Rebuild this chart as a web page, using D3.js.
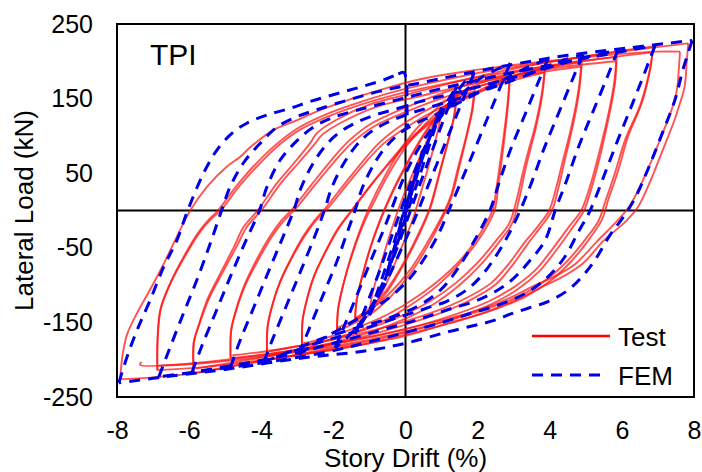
<!DOCTYPE html>
<html>
<head>
<meta charset="utf-8">
<script src="https://cdn.jsdelivr.net/npm/d3@7"></script>
<style>
  html, body { margin: 0; padding: 0; background: #fff; }
  svg { display: block; }
  text { font-family: "Liberation Sans", Arial, Helvetica, sans-serif; fill: #000; }
</style>
</head>
<body>
<svg id="chart" width="702" height="472"></svg>
<script>
// Axis ticks
const xTicks = [-8, -6, -4, -2, 0, 2, 4, 6, 8];
const yTicks = [-250, -150, -50, 50, 150, 250];

// Series names
const seriesNames = ["Test", "FEM"];

// Measured hysteresis (drift %, load kN), one array per half-cycle, peak to peak
const testBranches = [
  [[0,0],[0.2,40],[0.45,80]],
  [[0.45,80],[0.35,55],[0.1,10],[-0.2,-40],[-0.45,-80]],
  [[-0.45,-80],[-0.35,-55],[-0.1,-12],[0.2,35],[0.55,88],[0.8,118],[1.0,135]],
  [[1.0,135],[0.92,112],[0.7,70],[0.45,28],[0.2,-12],[-0.2,-60],[-0.6,-105],[-1.0,-138]],
  [[-1.0,-138],[-0.92,-112],[-0.7,-75],[-0.45,-35],[-0.15,8],[0.25,55],[0.7,100],[1.1,135],[1.42,155]],
  [[1.42,155],[1.36,128],[1.18,92],[0.95,50],[0.7,5],[0.4,-30],[0,-68],[-0.5,-108],[-1.0,-135],[-1.4,-148]],
  [[-1.4,-148],[-1.35,-120],[-1.18,-85],[-0.95,-47],[-0.66,-9],[-0.35,25],[0.05,63],[0.5,100],[0.95,130],[1.4,150]],
  [[1.4,150],[1.34,125],[1.15,88],[0.92,47],[0.66,2],[0.35,-32],[-0.05,-70],[-0.55,-108],[-1.05,-133],[-1.38,-144]],
  [[-1.4,-148],[-1.36,-122],[-1.2,-88],[-0.98,-50],[-0.7,-12],[-0.4,22],[0,60],[0.5,102],[0.95,132],[1.45,153],[1.93,166]],
  [[1.93,166],[1.87,138],[1.7,100],[1.5,60],[1.3,22],[1.12,0],[0.7,-40],[0.2,-80],[-0.4,-115],[-1.0,-140],[-1.5,-153],[-1.9,-162]],
  [[-1.9,-162],[-1.86,-130],[-1.7,-95],[-1.47,-58],[-1.2,-22],[-0.93,6],[-0.48,48],[0.02,86],[0.55,116],[1.1,140],[1.55,153],[1.9,160]],
  [[1.9,160],[1.84,134],[1.67,97],[1.46,58],[1.26,20],[1.07,-2],[0.64,-40],[0.12,-80],[-0.48,-113],[-1.08,-137],[-1.55,-150],[-1.88,-157]],
  [[-1.9,-162],[-1.87,-132],[-1.72,-98],[-1.5,-60],[-1.25,-25],[-1.0,5],[-0.55,48],[-0.05,88],[0.5,120],[1.1,146],[1.8,165],[2.4,176],[2.9,182]],
  [[2.9,182],[2.86,152],[2.78,112],[2.68,72],[2.58,35],[2.47,0],[2.15,-30],[1.6,-66],[0.9,-100],[0.1,-128],[-0.7,-150],[-1.6,-166],[-2.3,-176],[-2.87,-183]],
  [[-2.87,-183],[-2.85,-146],[-2.74,-120],[-2.52,-86],[-2.18,-52],[-1.85,-24],[-1.45,2],[-0.95,34],[-0.45,63],[0.05,90],[0.6,114],[1.2,137],[1.8,153],[2.4,166],[2.88,176]],
  [[2.88,176],[2.84,148],[2.75,110],[2.64,70],[2.53,33],[2.41,0],[2.08,-30],[1.55,-65],[0.82,-98],[0.02,-125],[-0.78,-146],[-1.65,-162],[-2.3,-172],[-2.84,-178]],
  [[-2.87,-183],[-2.86,-150],[-2.76,-125],[-2.55,-90],[-2.22,-55],[-1.9,-26],[-1.5,0],[-1.0,32],[-0.5,62],[0,90],[0.5,112],[1.1,135],[1.8,155],[2.6,173],[3.3,185],[3.87,191]],
  [[3.87,191],[3.82,165],[3.74,140],[3.62,112],[3.48,85],[3.31,52],[3.15,15],[2.95,-18],[2.6,-42],[2.1,-72],[1.5,-100],[0.8,-125],[0,-145],[-0.9,-162],[-1.9,-176],[-2.9,-186],[-3.84,-194]],
  [[-3.84,-194],[-3.82,-155],[-3.7,-128],[-3.46,-94],[-3.1,-59],[-2.74,-30],[-2.42,-10],[-2.1,6],[-1.6,36],[-1.1,65],[-0.6,90],[0.1,114],[0.9,136],[1.8,155],[2.8,172],[3.85,185]],
  [[3.85,185],[3.79,160],[3.7,136],[3.57,108],[3.42,82],[3.25,50],[3.08,14],[2.88,-17],[2.52,-40],[2.0,-70],[1.4,-97],[0.7,-121],[-0.1,-141],[-1.0,-158],[-2.0,-172],[-3.0,-182],[-3.8,-189]],
  [[-3.84,-194],[-3.83,-158],[-3.72,-132],[-3.5,-98],[-3.15,-62],[-2.8,-32],[-2.5,-12],[-2.19,5],[-1.7,35],[-1.2,65],[-0.7,92],[0,118],[0.8,140],[1.7,160],[2.8,178],[3.9,191],[4.89,199]],
  [[4.89,199],[4.84,170],[4.75,140],[4.6,105],[4.42,68],[4.24,30],[4.06,0],[3.75,-22],[3.4,-44],[2.94,-75],[2.48,-100],[1.8,-120],[1.0,-137],[0,-153],[-1.0,-167],[-2,-178],[-2.9,-186],[-3.9,-193],[-4.85,-198]],
  [[-4.85,-198],[-4.83,-160],[-4.7,-135],[-4.45,-101],[-4.08,-66],[-3.72,-36],[-3.36,-13],[-3.02,4],[-2.5,35],[-2.0,64],[-1.5,90],[-0.9,112],[0.1,134],[1.1,152],[2.3,170],[3.6,184],[4.87,193]],
  [[4.87,193],[4.81,166],[4.71,137],[4.55,102],[4.36,66],[4.17,29],[3.98,0],[3.66,-22],[3.3,-43],[2.84,-73],[2.38,-97],[1.7,-117],[0.9,-134],[-0.1,-150],[-1.1,-163],[-2.1,-174],[-3.0,-182],[-3.9,-189],[-4.8,-194]],
  [[-4.85,-198],[-4.84,-162],[-4.73,-138],[-4.5,-104],[-4.15,-68],[-3.8,-38],[-3.45,-14],[-3.12,3],[-2.6,35],[-2.1,65],[-1.6,92],[-1.0,115],[0,138],[1.0,157],[2.2,175],[3.5,190],[4.8,200],[5.86,206]],
  [[5.86,206],[5.82,175],[5.72,145],[5.57,110],[5.38,70],[5.17,32],[4.95,0],[4.6,-25],[4.2,-52],[3.7,-82],[3.1,-106],[2.4,-125],[1.5,-142],[0.5,-157],[-0.7,-172],[-2.0,-184],[-3.3,-196],[-4.6,-207],[-5.87,-218]],
  [[-5.87,-218],[-5.86,-176],[-5.72,-153],[-5.45,-118],[-5.06,-82],[-4.68,-48],[-4.4,-22],[-4.0,0],[-3.45,37],[-2.98,63],[-2.52,89],[-2.3,102],[-1.7,120],[-0.8,139],[0.3,152],[1.5,166],[2.9,180],[4.3,192],[5.84,200]],
  [[5.84,200],[5.79,172],[5.68,142],[5.52,107],[5.32,68],[5.1,30],[4.87,0],[4.5,-24],[4.1,-50],[3.6,-80],[3.0,-103],[2.3,-122],[1.4,-139],[0.4,-154],[-0.8,-168],[-2.1,-180],[-3.4,-192],[-4.7,-203],[-5.82,-212]],
  [[-5.87,-218],[-5.88,-178],[-5.75,-156],[-5.5,-120],[-5.13,-84],[-4.76,-49],[-4.49,-22],[-4.1,0],[-3.56,37],[-3.1,63],[-2.65,90],[-2.45,104],[-1.9,122],[-1.0,142],[0,155],[1.2,170],[2.6,186],[4.0,199],[5.4,210],[6.87,220]],
  [[6.87,220],[6.78,188],[6.55,144],[6.17,99],[5.9,54],[5.62,14],[5.44,-13],[5.1,-38],[4.6,-68],[4.0,-95],[3.3,-116],[2.4,-134],[1.4,-149],[0.2,-164],[-1.2,-180],[-2.7,-192],[-4.2,-202],[-5.6,-210],[-6.88,-214]],
  [[-6.88,-214],[-6.87,-172],[-6.78,-131],[-6.5,-96],[-6.1,-60],[-5.7,-29],[-5.38,-11],[-5.12,0],[-4.62,32],[-4.1,60],[-3.5,88],[-2.9,109],[-2.2,125],[-1.3,141],[-0.3,155],[0.9,168],[2.3,181],[3.9,193],[5.5,204],[6.85,212]],
  [[6.85,212],[6.75,183],[6.5,140],[6.1,96],[5.82,52],[5.54,12],[5.35,-14],[5.0,-38],[4.5,-67],[3.9,-93],[3.2,-114],[2.3,-131],[1.3,-146],[0.1,-161],[-1.3,-176],[-2.8,-188],[-4.3,-198],[-5.7,-205],[-6.85,-208]],
  [[-6.88,-214],[-6.88,-174],[-6.8,-133],[-6.53,-98],[-6.15,-62],[-5.75,-30],[-5.45,-12],[-5.2,0],[-4.7,32],[-4.2,60],[-3.6,88],[-3.0,110],[-2.3,127],[-1.4,143],[-0.4,158],[0.8,172],[2.2,186],[3.8,198],[5.5,210],[6.8,218],[7.84,224]],
  [[7.84,224],[7.8,200],[7.74,166],[7.6,142],[7.45,120],[7.1,77],[6.75,35],[6.45,5],[6.1,-15],[5.5,-40],[4.94,-70],[4.39,-88],[3.84,-101],[3.1,-119],[2.18,-137],[1.26,-150],[0,-168],[-1.5,-182],[-2.92,-193],[-4.3,-204],[-5.7,-217],[-7.08,-224],[-7.91,-226]],
  [[-7.91,-226],[-7.85,-195],[-7.72,-166],[-7.44,-137],[-7.08,-106],[-6.7,-71],[-6.34,-35],[-5.97,0],[-5.5,32],[-4.95,59],[-4.58,72],[-4.3,85],[-3.65,108],[-3.0,121],[-2.55,131],[-1.6,148],[-0.6,163],[0.4,176],[1.6,186],[3.0,195],[4.5,203],[6.0,210],[7.0,213],[7.61,213]],
  [[7.61,213],[7.58,190],[7.52,160],[7.38,135],[7.2,112],[6.85,70],[6.48,30],[6.2,5],[5.85,-15],[5.3,-42],[4.7,-72],[4.15,-88],[3.6,-100],[2.9,-117],[2.0,-134],[1.0,-147],[-0.3,-162],[-1.8,-177],[-3.3,-189],[-4.8,-199],[-6.2,-206],[-7.36,-207],[-7.32,-203]]
];

// Finite element prediction, same layout
const femBranches = [
  [[0,0],[0.25,45],[0.5,82]],
  [[0.5,82],[0.35,58],[0,5],[-0.3,-48],[-0.5,-82]],
  [[-0.5,-82],[-0.35,-58],[0,-4],[0.4,60],[0.75,108],[1.0,138]],
  [[1.0,138],[0.8,108],[0.4,48],[0,-10],[-0.4,-70],[-0.75,-115],[-1.0,-140]],
  [[-1.0,-140],[-0.8,-112],[-0.4,-55],[0,5],[0.4,62],[0.8,112],[1.15,145],[1.42,166]],
  [[1.42,166],[1.2,140],[0.8,88],[0.4,35],[0.05,-12],[-0.35,-65],[-0.75,-110],[-1.1,-142],[-1.4,-165]],
  [[-1.4,-165],[-1.15,-135],[-0.75,-85],[-0.35,-30],[0,18],[0.4,70],[0.85,115],[1.3,150],[1.6,170],[1.9,184]],
  [[1.9,184],[1.65,155],[1.25,108],[0.85,60],[0.5,18],[0.25,-12],[-0.1,-50],[-0.5,-92],[-0.95,-130],[-1.45,-162],[-1.95,-184]],
  [[-1.95,-184],[-1.7,-155],[-1.3,-108],[-0.9,-60],[-0.6,-25],[-0.4,0],[-0.1,38],[0.3,78],[0.8,115],[1.4,148],[2.1,178],[2.9,197]],
  [[2.9,197],[2.65,168],[2.25,121],[1.85,74],[1.5,34],[1.2,0],[0.9,-33],[0.5,-66],[0.1,-92],[-0.4,-115],[-1.0,-135],[-1.6,-153],[-2.3,-172],[-2.96,-193]],
  [[-2.96,-193],[-2.7,-162],[-2.3,-115],[-1.9,-68],[-1.62,-30],[-1.4,0],[-1.2,30],[-0.9,60],[-0.55,85],[-0.15,104],[0.3,117],[0.9,130],[1.7,150],[2.6,172],[3.3,190],[3.95,203]],
  [[3.95,203],[3.7,174],[3.3,127],[2.9,80],[2.6,38],[2.34,0],[1.87,-44],[1.42,-80],[0.96,-107],[0.31,-129],[-0.62,-147],[-1.54,-160],[-2.46,-174],[-3.2,-189],[-3.93,-203]],
  [[-3.93,-203],[-3.68,-172],[-3.28,-125],[-2.88,-78],[-2.52,-35],[-2.25,0],[-2.05,30],[-1.75,60],[-1.4,85],[-1.0,104],[-0.55,117],[0,128],[0.65,138],[1.6,152],[2.6,168],[3.6,186],[4.3,200],[4.92,209]],
  [[4.92,209],[4.65,178],[4.25,131],[3.85,84],[3.5,38],[3.18,0],[2.85,-33],[2.44,-66],[2.08,-89],[1.68,-107],[1.13,-122],[0.58,-131],[0.08,-139],[-0.5,-148],[-1.5,-164],[-2.6,-180],[-3.7,-198],[-4.85,-210]],
  [[-4.85,-210],[-4.6,-176],[-4.2,-129],[-3.8,-82],[-3.42,-38],[-3.1,0],[-2.9,30],[-2.6,60],[-2.25,85],[-1.85,104],[-1.4,117],[-0.85,128],[-0.2,137],[0.4,146],[1.4,158],[2.5,172],[3.6,186],[4.7,202],[5.89,215]],
  [[5.89,215],[5.62,182],[5.22,135],[4.82,88],[4.45,38],[4.15,0],[3.87,-40],[3.4,-70],[2.95,-93],[2.48,-109],[1.9,-122],[1.3,-131],[0.8,-139],[0.3,-147],[-0.8,-162],[-2.0,-178],[-3.2,-193],[-4.6,-206],[-5.92,-217]],
  [[-5.92,-217],[-5.65,-182],[-5.25,-135],[-4.85,-88],[-4.45,-43],[-4.05,0],[-3.84,32],[-3.47,68],[-3.0,94],[-2.55,112],[-2.0,125],[-1.3,135],[-0.5,145],[0.3,155],[1.3,167],[2.5,180],[3.8,193],[5.2,206],[6.92,221]],
  [[6.92,221],[6.65,187],[6.3,144],[5.9,96],[5.5,46],[5.12,0],[4.78,-30],[4.42,-62],[3.95,-89],[3.4,-109],[2.84,-122],[2.3,-131],[1.8,-138],[1.3,-146],[0.2,-161],[-1.0,-176],[-2.2,-190],[-3.8,-203],[-5.3,-213],[-6.84,-223]],
  [[-6.84,-223],[-6.58,-190],[-6.2,-143],[-5.8,-95],[-5.42,-45],[-5.1,0],[-4.86,32],[-4.49,64],[-4.03,90],[-3.56,112],[-3.0,126],[-2.46,135],[-1.6,148],[-0.7,160],[0.3,170],[1.5,182],[3.0,196],[4.5,208],[6.2,218],[7.95,228]],
  [[7.95,228],[7.7,190],[7.47,148],[7.1,101],[6.73,56],[6.36,16],[6.05,-8],[5.67,-33],[5.26,-66],[4.89,-89],[4.5,-107],[3.95,-122],[3.4,-131],[2.9,-139],[2.48,-147],[1.23,-162],[0,-178],[-1.08,-188],[-2.92,-198],[-5.0,-213],[-6.7,-223],[-7.95,-231]],
  [[-7.95,-231],[-7.72,-196],[-7.44,-160],[-7.08,-120],[-6.7,-75],[-6.34,-40],[-6.04,0],[-5.6,50],[-5.23,81],[-4.8,104],[-4.4,117],[-3.84,128],[-3.2,137],[-2.65,146],[-1.73,159],[-1.07,168],[-0.55,176],[-0.2,183]],
  [[-0.2,183],[-0.05,185],[0.02,175],[0.04,140],[0.06,110]]
];

const svg = d3.select("#chart");
const W = 702, H = 472;
const plot = { left: 117, right: 694, top: 24, bottom: 397 };

const x = d3.scaleLinear().domain([-8, 8]).range([plot.left, plot.right]);
const y = d3.scaleLinear().domain([-250, 250]).range([plot.bottom, plot.top]);

svg.append("rect").attr("width", W).attr("height", H).attr("fill", "#fff");

svg.append("defs").append("clipPath").attr("id", "plot-clip")
  .append("rect")
  .attr("x", plot.left).attr("y", plot.top)
  .attr("width", plot.right - plot.left).attr("height", plot.bottom - plot.top);

// Zero cross-hair
svg.append("line")
  .attr("x1", plot.left).attr("x2", plot.right)
  .attr("y1", y(0)).attr("y2", y(0))
  .attr("stroke", "#000").attr("stroke-width", 2);
svg.append("line")
  .attr("x1", x(0)).attr("x2", x(0))
  .attr("y1", plot.top).attr("y2", plot.bottom)
  .attr("stroke", "#000").attr("stroke-width", 2);

const line = d3.line()
  .x(d => x(d[0]))
  .y(d => y(d[1]))
  .curve(d3.curveCatmullRom.alpha(0.5));

const data = svg.append("g").attr("clip-path", "url(#plot-clip)");

data.append("g").attr("class", "test")
  .selectAll("path").data(testBranches).join("path")
  .attr("d", line)
  .attr("fill", "none")
  .attr("stroke", "#ff1010")
  .attr("stroke-opacity", 0.72)
  .attr("stroke-width", 1.9)
  .attr("stroke-linejoin", "round");

data.append("g").attr("class", "fem")
  .selectAll("path").data(femBranches).join("path")
  .attr("d", line)
  .attr("fill", "none")
  .attr("stroke", "#0000e6")
  .attr("stroke-width", 3)
  .attr("stroke-dasharray", "11,8");

// Frame
svg.append("rect")
  .attr("x", plot.left).attr("y", plot.top)
  .attr("width", plot.right - plot.left).attr("height", plot.bottom - plot.top)
  .attr("fill", "none").attr("stroke", "#000").attr("stroke-width", 2);

// Axes (labels only, no tick marks)
const fmt = d => String(d);
const xAxis = svg.append("g")
  .attr("transform", `translate(0,${plot.bottom})`)
  .call(d3.axisBottom(x).tickValues(xTicks).tickFormat(fmt).tickSize(0).tickPadding(24));
const yAxis = svg.append("g")
  .attr("transform", `translate(${plot.left},0)`)
  .call(d3.axisLeft(y).tickValues(yTicks).tickFormat(fmt).tickSize(0).tickPadding(24));
[xAxis, yAxis].forEach(a => {
  a.select(".domain").remove();
  a.selectAll("text")
    .attr("fill", "#000")
    .style("font-family", '"Liberation Sans", Arial, sans-serif')
    .style("font-size", "25px");
});

// Axis titles
svg.append("text")
  .attr("x", x(0)).attr("y", 467)
  .attr("text-anchor", "middle")
  .style("font-size", "26px")
  .text("Story Drift (%)");
svg.append("text")
  .attr("transform", `translate(33,${(plot.top + plot.bottom) / 2}) rotate(-90)`)
  .attr("text-anchor", "middle")
  .style("font-size", "26px")
  .text("Lateral Load (kN)");

// Specimen label
svg.append("text")
  .attr("x", 150).attr("y", 65)
  .style("font-size", "30px")
  .text("TPI");

// Legend
const legend = svg.append("g");
legend.append("line")
  .attr("x1", 532).attr("x2", 610).attr("y1", 336).attr("y2", 336)
  .attr("stroke", "#ff0000").attr("stroke-width", 2.6);
legend.append("text")
  .attr("x", 618).attr("y", 346)
  .style("font-size", "26px")
  .text(seriesNames[0]);
legend.append("line")
  .attr("x1", 532).attr("x2", 601).attr("y1", 375).attr("y2", 375)
  .attr("stroke", "#0000e6").attr("stroke-width", 3)
  .attr("stroke-dasharray", "11,8");
legend.append("text")
  .attr("x", 618).attr("y", 385)
  .style("font-size", "26px")
  .text(seriesNames[1]);
</script>
</body>
</html>
